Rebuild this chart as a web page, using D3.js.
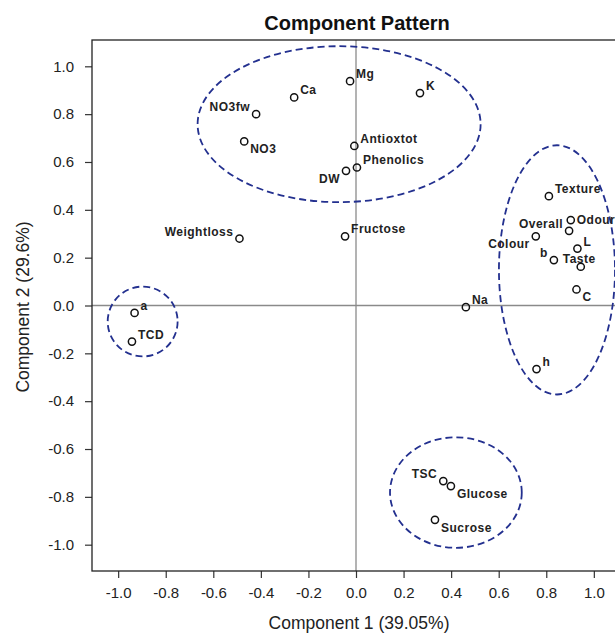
<html>
<head>
<meta charset="utf-8">
<script src="https://cdnjs.cloudflare.com/ajax/libs/d3/7.8.5/d3.min.js"></script>
<style>
body { margin: 0; background: #fff; font-family: "Liberation Sans", Arial, sans-serif; }
</style>
</head>
<body>
<svg id="canvas" width="615" height="634"></svg>
<script>

// loadings
var names = ['Mg', 'Ca', 'NO3fw', 'K', 'NO3', 'Antioxtot', 'Phenolics', 'DW', 'Weightloss', 'Fructose',
             'Texture', 'Odour', 'Overall', 'Colour', 'L', 'b', 'Taste', 'C', 'h',
             'a', 'TCD', 'Na', 'TSC', 'Glucose', 'Sucrose'];
var comp1 = [-0.025, -0.26, -0.42, 0.269, -0.47, -0.007, 0.004, -0.042, -0.49, -0.046,
             0.811, 0.903, 0.896, 0.756, 0.931, 0.832, 0.945, 0.927, 0.759,
             -0.931, -0.942, 0.462, 0.367, 0.399, 0.332];
var comp2 = [0.938, 0.87, 0.80, 0.888, 0.686, 0.667, 0.577, 0.563, 0.28, 0.289,
             0.457, 0.357, 0.312, 0.289, 0.238, 0.19, 0.162, 0.067, -0.266,
             -0.031, -0.151, -0.007, -0.734, -0.755, -0.896];
// where each label sits relative to its point
var labelSide = ['ur', 'ur', 'ul', 'ur', 'lr', 'ur', 'ur', 'll', 'ul', 'ur',
                 'ur', 'r', 'ul', 'll', 'ur', 'ul', 'um', 'lr', 'ur',
                 'ur', 'ur', 'ur', 'ul', 'lr', 'lr'];

var ticks = [-1.0, -0.8, -0.6, -0.4, -0.2, 0.0, 0.2, 0.4, 0.6, 0.8, 1.0];

// groups circled by hand: centre and radii in loading units
var groupCx = [-0.071, -0.897, 0.845, 0.42];
var groupCy = [0.758, -0.067, 0.149, -0.782];
var groupRx = [0.595, 0.147, 0.244, 0.277];
var groupRy = [0.326, 0.146, 0.521, 0.231];

var svg = d3.select('#canvas');
var pLeft = 92, pTop = 40, pRight = 620, pBottom = 571;

var x = d3.scaleLinear().domain([-1.11, 1.11]).range([pLeft, pRight]);
var y = d3.scaleLinear().domain([-1.11, 1.11]).range([pBottom, pTop]);

var fmt = function(d) { return d.toFixed(1); };

svg.append('text')
  .attr('x', 357)
  .attr('y', 30)
  .attr('text-anchor', 'middle')
  .style('font-weight', 'bold')
  .style('font-size', '20px')
  .style('fill', '#111')
  .text('Component Pattern');

// reference lines
svg.append('line').attr('x1', x(0)).attr('x2', x(0)).attr('y1', pTop).attr('y2', pBottom)
  .style('stroke', '#8a8a8a').style('stroke-width', 1.3);
svg.append('line').attr('x1', pLeft).attr('x2', pRight).attr('y1', y(0)).attr('y2', y(0))
  .style('stroke', '#8a8a8a').style('stroke-width', 1.3);

var xAxis = d3.axisBottom(x).tickValues(ticks).tickFormat(fmt).tickSize(7).tickPadding(9).tickSizeOuter(0);
var yAxis = d3.axisLeft(y).tickValues(ticks).tickFormat(fmt).tickSize(7).tickPadding(11).tickSizeOuter(0);

var gx = svg.append('g').attr('transform', 'translate(0,' + pBottom + ')').call(xAxis);
var gy = svg.append('g').attr('transform', 'translate(' + pLeft + ',0)').call(yAxis);
[gx, gy].forEach(function(g) {
  g.select('.domain').remove();
  g.selectAll('line').style('stroke', '#333').style('stroke-width', 1.2);
  g.selectAll('text').style('font-size', '15px').style('fill', '#222')
    .style('font-family', '"Liberation Sans", Arial, sans-serif');
});

svg.append('rect')
  .attr('x', pLeft).attr('y', pTop)
  .attr('width', pRight - pLeft).attr('height', pBottom - pTop)
  .style('fill', 'none').style('stroke', '#222').style('stroke-width', 1.3);

svg.append('text')
  .attr('x', 359)
  .attr('y', 629)
  .attr('text-anchor', 'middle')
  .style('font-size', '17.5px').style('fill', '#222')
  .text('Component 1 (39.05%)');

svg.append('text')
  .attr('transform', 'translate(29,307) rotate(-90)')
  .attr('text-anchor', 'middle')
  .style('font-size', '17.5px').style('fill', '#222')
  .text('Component 2 (29.6%)');

// group ellipses
svg.selectAll('.grp')
  .data(d3.range(groupCx.length))
  .enter()
  .append('ellipse')
  .attr('class', 'grp')
  .attr('cx', function(i) { return x(groupCx[i]); })
  .attr('cy', function(i) { return y(groupCy[i]); })
  .attr('rx', function(i) { return x(groupRx[i]) - x(0); })
  .attr('ry', function(i) { return y(0) - y(groupRy[i]); })
  .style('fill', 'none')
  .style('stroke', '#23308f')
  .style('stroke-width', 1.8)
  .style('stroke-dasharray', '7,4');

var pts = names.map(function(n, i) {
  return {name: n, c1: comp1[i], c2: comp2[i], side: labelSide[i]};
});

svg.selectAll('.pt')
  .data(pts)
  .enter()
  .append('circle')
  .attr('class', 'pt')
  .attr('cx', function(d) { return x(d.c1); })
  .attr('cy', function(d) { return y(d.c2); })
  .attr('r', 3.6)
  .style('fill', 'none')
  .style('stroke', '#111')
  .style('stroke-width', 1.5);

var offs = {
  ur: [6, -3, 'start'],
  r:  [6, 4, 'start'],
  lr: [6, 12, 'start'],
  ul: [-6, -3, 'end'],
  um: [-18, -4, 'start'],
  ll: [-6, 12, 'end']
};

svg.selectAll('.lbl')
  .data(pts)
  .enter()
  .append('text')
  .attr('class', 'lbl')
  .attr('x', function(d) { return x(d.c1) + offs[d.side][0]; })
  .attr('y', function(d) { return y(d.c2) + offs[d.side][1]; })
  .attr('text-anchor', function(d) { return offs[d.side][2]; })
  .style('font-size', '12px')
  .style('letter-spacing', '0.5px')
  .style('font-weight', 'bold')
  .style('fill', '#222')
  .text(function(d) { return d.name; });

</script>
</body>
</html>
